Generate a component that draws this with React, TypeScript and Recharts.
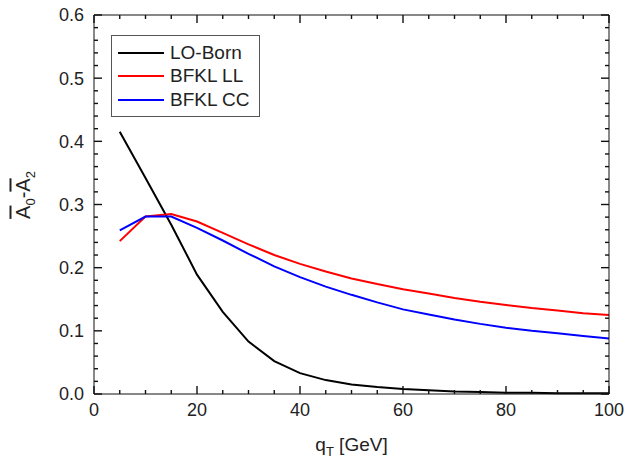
import React from "react";
import { LineChart, Line, XAxis, YAxis } from "recharts";

const qT = [5, 10, 15, 20, 25, 30, 35, 40, 45, 50, 55, 60, 65, 70, 75, 80, 85, 90, 95, 100];
const loBorn = [0.415, 0.342, 0.268, 0.189, 0.13, 0.083, 0.052, 0.033, 0.022, 0.015, 0.011, 0.008, 0.006, 0.004, 0.003, 0.002, 0.002, 0.001, 0.001, 0.001];
const bfklLL = [0.242, 0.281, 0.285, 0.273, 0.255, 0.237, 0.22, 0.206, 0.194, 0.183, 0.174, 0.166, 0.159, 0.152, 0.146, 0.141, 0.136, 0.132, 0.128, 0.125];
const bfklCC = [0.259, 0.281, 0.281, 0.263, 0.243, 0.222, 0.202, 0.185, 0.17, 0.157, 0.145, 0.134, 0.126, 0.118, 0.111, 0.105, 0.1, 0.096, 0.092, 0.088];

const xTicks = [0, 5, 10, 15, 20, 25, 30, 35, 40, 45, 50, 55, 60, 65, 70, 75, 80, 85, 90, 95, 100];
const yTicks = [0, 0.02, 0.04, 0.06, 0.08, 0.1, 0.12, 0.14, 0.16, 0.18, 0.2, 0.22, 0.24, 0.26, 0.28, 0.3, 0.32, 0.34, 0.36, 0.38, 0.4, 0.42, 0.44, 0.46, 0.48, 0.5, 0.52, 0.54, 0.56, 0.58, 0.6];

const series = [
  { key: "lo", name: "LO-Born", color: "#000000" },
  { key: "ll", name: "BFKL LL", color: "#ff0000" },
  { key: "cc", name: "BFKL CC", color: "#0000ff" },
];

const data = qT.map((q, i) => ({ q, lo: loBorn[i], ll: bfklLL[i], cc: bfklCC[i] }));

const W = 627;
const H = 459;
const M = { top: 14, right: 17, left: 0, bottom: 0 };
const Y_AXIS_W = 94;
const X_AXIS_H = 65;
const PLOT_W = W - M.left - M.right - Y_AXIS_W - 1;
const PLOT_H = H - M.top - M.bottom - X_AXIS_H - 1;

const FONT = "'Liberation Sans', Arial, sans-serif";
const INK = "#222";
const AXIS = "#111";
const TW = 1.4; // tick thickness

const isMajorX = (v: number) => v % 20 === 0;
const isMajorY = (v: number) => Math.abs(v * 10 - Math.round(v * 10)) < 1e-6;

// inward tick marks on top and bottom edges, drawn from the top axis
const XMarks = (props: any) => {
  const { x, y, payload } = props;
  const len = isMajorX(payload.value) ? 8 : 4;
  return (
    <g>
      <rect x={x - TW / 2} y={y} width={TW} height={len} fill={AXIS} />
      <rect x={x - TW / 2} y={y + PLOT_H - len} width={TW} height={len} fill={AXIS} />
    </g>
  );
};

// inward tick marks on right and left edges, drawn from the right axis
const YMarks = (props: any) => {
  const { x, y, payload } = props;
  const len = isMajorY(payload.value) ? 8 : 4;
  return (
    <g>
      <rect x={x - len} y={y - TW / 2} width={len} height={TW} fill={AXIS} />
      <rect x={x - PLOT_W} y={y - TW / 2} width={len} height={TW} fill={AXIS} />
    </g>
  );
};

const tickFont = { fontSize: 18, fill: INK, fontFamily: FONT };

export default function App() {
  return (
    <div style={{ position: "absolute", left: 0, top: 0, width: W, height: H, background: "#fff" }}>
      <LineChart width={W} height={H} data={data} margin={M}>
        <XAxis
          dataKey="q"
          type="number"
          domain={[0, 100]}
          ticks={xTicks}
          interval={0}
          height={X_AXIS_H}
          tickSize={0}
          tickMargin={9}
          tickLine={false}
          stroke={AXIS}
          tick={tickFont}
          tickFormatter={(v: number) => (isMajorX(v) ? String(v) : "")}
        />
        <XAxis
          xAxisId="top"
          orientation="top"
          dataKey="q"
          type="number"
          domain={[0, 100]}
          ticks={xTicks}
          interval={0}
          height={1}
          tickSize={0}
          tickMargin={0}
          tickLine={false}
          stroke={AXIS}
          tick={<XMarks />}
        />
        <YAxis
          type="number"
          domain={[0, 0.6]}
          ticks={yTicks}
          interval={0}
          width={Y_AXIS_W}
          tickSize={0}
          tickMargin={10}
          tickLine={false}
          stroke={AXIS}
          tick={tickFont}
          tickFormatter={(v: number) => (isMajorY(v) ? v.toFixed(1) : "")}
        />
        <YAxis
          yAxisId="right"
          orientation="right"
          type="number"
          domain={[0, 0.6]}
          ticks={yTicks}
          interval={0}
          width={1}
          tickSize={0}
          tickMargin={0}
          tickLine={false}
          stroke={AXIS}
          tick={<YMarks />}
        />
        <Line dataKey="lo" name="LO-Born" type="linear" stroke="#000000" strokeWidth={2} dot={false} isAnimationActive={false} />
        <Line dataKey="ll" name="BFKL LL" type="linear" stroke="#ff0000" strokeWidth={2} dot={false} isAnimationActive={false} />
        <Line
          dataKey="cc"
          name="BFKL CC"
          type="linear"
          xAxisId="top"
          yAxisId="right"
          stroke="#0000ff"
          strokeWidth={2}
          dot={false}
          isAnimationActive={false}
        />
      </LineChart>

      {/* legend */}
      <div
        style={{
          position: "absolute",
          left: 111,
          top: 35,
          width: 149,
          boxSizing: "border-box",
          border: "1px solid #555",
          background: "#fff",
          padding: "5px 0 4px 0",
          fontFamily: FONT,
          fontSize: 19,
          color: INK,
        }}
      >
        {series.map((s) => (
          <div key={s.key} style={{ display: "flex", alignItems: "center", height: 23.5 }}>
            <svg width={52} height={10} style={{ marginLeft: 6 }}>
              <path d="M0,5L46,5" stroke={s.color} strokeWidth={2} />
            </svg>
            <span style={{ lineHeight: "20px" }}>{s.name}</span>
          </div>
        ))}
      </div>

      {/* x axis title */}
      <div
        style={{
          position: "absolute",
          left: 251.5,
          top: 434,
          width: 200,
          textAlign: "center",
          fontFamily: FONT,
          fontSize: 19,
          lineHeight: "22px",
          color: INK,
          whiteSpace: "nowrap",
        }}
      >
        q<span style={{ fontSize: 13, position: "relative", top: 5 }}>T</span> [GeV]
      </div>

      {/* y axis title */}
      <div
        style={{
          position: "absolute",
          left: 23.5,
          top: 195,
          transform: "translate(-50%, -50%) rotate(-90deg)",
          fontFamily: FONT,
          fontSize: 20,
          lineHeight: "22px",
          color: INK,
          whiteSpace: "nowrap",
        }}
      >
        <span style={{ textDecoration: "overline" }}>A</span>
        <span style={{ fontSize: 13, position: "relative", top: 5 }}>0</span>-
        <span style={{ textDecoration: "overline" }}>A</span>
        <span style={{ fontSize: 13, position: "relative", top: 5 }}>2</span>
      </div>
    </div>
  );
}
